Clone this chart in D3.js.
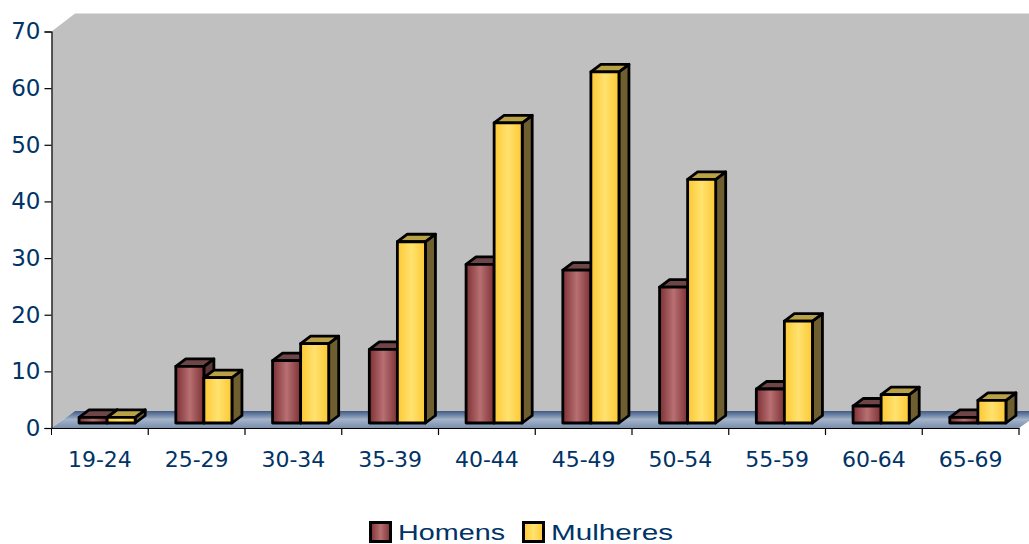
<!DOCTYPE html>
<html><head><meta charset="utf-8">
<script src="https://cdn.jsdelivr.net/npm/d3@7"></script>
<style>html,body{margin:0;padding:0;background:#fff}svg{display:block}</style>
</head><body><svg id="chart" width="1029" height="544"></svg>
<script>
const categories = ["19-24","25-29","30-34","35-39","40-44","45-49","50-54","55-59","60-64","65-69"];
const seriesNames = ["Homens","Mulheres"];
const homens = [1,10,11,13,28,27,24,6,3,1];
const mulheres = [1,8,14,32,53,62,43,18,5,4];
const yTickValues = [0,10,20,30,40,50,60,70];

const ink = "#003366";
const palette = {
  Homens:   {edge:"#7c3035", mid:"#b87072", top:"#6f4647", side:"#5b3636"},
  Mulheres: {edge:"#fdc833", mid:"#ffe26f", top:"#b9a145", side:"#6f5f30"}
};

const svg = d3.select("#chart");
const defs = svg.append("defs");
seriesNames.forEach(name => {
  const g = defs.append("linearGradient").attr("id","face-"+name).attr("x1",0).attr("x2",1).attr("y1",0).attr("y2",0);
  g.append("stop").attr("offset",0).attr("stop-color",palette[name].edge);
  g.append("stop").attr("offset",.5).attr("stop-color",palette[name].mid);
  g.append("stop").attr("offset",1).attr("stop-color",palette[name].edge);
});
const floorGrad = defs.append("linearGradient").attr("id","floor").attr("x1",0).attr("x2",0).attr("y1",0).attr("y2",1);
[[0,"#3f5a84"],[.5,"#a3b3c9"],[1,"#7a8fac"]].forEach(([o,c]) =>
  floorGrad.append("stop").attr("offset",o).attr("stop-color",c));

const x = d3.scaleBand().domain(categories).range([51.5,1019]);
const y = d3.scaleLinear().domain([0,70]).range([428,31.5]);
const inner = d3.scaleBand().domain(seriesNames).range([x.bandwidth()*.285, x.bandwidth()*.865]);

// Oblique projection of the chart box and of the columns standing inside it
const wallDx = 23.5, wallDy = -17;
const barLift = -5, barDx = 10, barDy = -7.5;

const x0 = x.range()[0], x1 = x.range()[1];
svg.append("polygon").attr("fill","#c0c0c0")
  .attr("points",[[x0,y(70)],[x0+wallDx,y(70)+wallDy-1],[1029,y(70)+wallDy-1],[1029,y(0)+wallDy],[x0+wallDx,y(0)+wallDy],[x0,y(0)]].join(" "));
svg.append("polygon").attr("fill","url(#floor)")
  .attr("points",[[x0,y(0)],[x0+wallDx,y(0)+wallDy],[1029,y(0)+wallDy],[1029,y(0)-7],[x1,y(0)]].join(" "));

const rows = categories.map((c,i)=>({c, Homens:homens[i], Mulheres:mulheres[i]}));
const groups = svg.append("g").selectAll("g").data(rows).join("g");
// Men first, so the women's column overlaps its right-hand side
seriesNames.forEach(name => {
  groups.each(function(d){
    const g = d3.select(this).append("g")
      .attr("stroke","#000").attr("stroke-width",2.8).attr("stroke-linejoin","round");
    const l = x(d.c)+inner(name), w = inner.bandwidth();
    const t = y(d[name])+barLift, b = y(0)+barLift;
    g.append("polygon").attr("fill",palette[name].side)
      .attr("points",[[l+w,t],[l+w+barDx,t+barDy],[l+w+barDx,b+barDy],[l+w,b]].join(" "));
    g.append("polygon").attr("fill",palette[name].top)
      .attr("points",[[l,t],[l+barDx,t+barDy],[l+w+barDx,t+barDy],[l+w,t]].join(" "));
    g.append("rect").attr("x",l).attr("y",t).attr("width",w).attr("height",b-t)
      .attr("fill",`url(#face-${name})`);
  });
});

const font = "'DejaVu Sans', sans-serif";
const yAxis = svg.append("g").attr("transform",`translate(${x0},0)`)
  .call(d3.axisLeft(y).tickValues(yTickValues).tickSize(7).tickPadding(4).tickFormat(d3.format("d")));
const xAxis = svg.append("g").attr("transform",`translate(0,${y(0)})`)
  .call(d3.axisBottom(x).tickSize(0).tickPadding(23));
xAxis.selectAll(".tick").append("line").attr("x1",x.bandwidth()/2).attr("x2",x.bandwidth()/2).attr("y2",7).attr("stroke","#000");
xAxis.append("line").attr("x1",x0).attr("x2",x0).attr("y2",7).attr("stroke","#000");
[yAxis,xAxis].forEach(a=>{
  a.selectAll("path").attr("stroke","#000").attr("stroke-width",1.2);
  a.selectAll(".tick line").attr("stroke","#000").attr("stroke-width",1.2);
  a.selectAll("text").attr("fill",ink).attr("font-family",font).attr("font-size",23);
});
xAxis.selectAll("text").attr("font-size",22).attr("dy","0.71em");

// Legend
const legend = [{n:"Homens",sx:370.5,tx:398,tw:107},{n:"Mulheres",sx:523.5,tx:551,tw:122}];
const lg = svg.append("g").selectAll("g").data(legend).join("g");
lg.append("rect").attr("x",d=>d.sx).attr("y",522.5).attr("width",20).attr("height",19)
  .attr("fill",d=>`url(#face-${d.n})`).attr("stroke","#000").attr("stroke-width",3);
lg.append("text").attr("x",d=>d.tx).attr("y",540).text(d=>d.n)
  .attr("fill",ink).attr("font-family","'Liberation Sans', sans-serif").attr("font-size",22)
  .attr("textLength",d=>d.tw).attr("lengthAdjust","spacingAndGlyphs");
</script></body></html>
